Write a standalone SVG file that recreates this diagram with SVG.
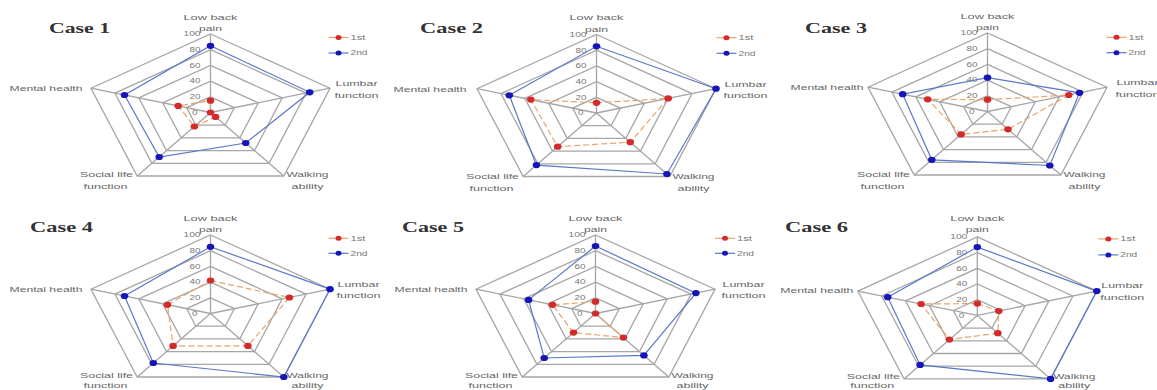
<svg xmlns="http://www.w3.org/2000/svg" xmlns:xlink="http://www.w3.org/1999/xlink" width="1157" height="390" viewBox="0 0 1157 390">
<style>
.grid polygon,.grid path{fill:none;stroke:#a6a6a6;stroke-width:1.3}
.tick{font-family:"Liberation Sans",Arial,sans-serif;font-size:6.5px;fill:#777;text-anchor:end}
.lab{font-family:"Liberation Sans",Arial,sans-serif;font-size:8px;fill:#666;text-anchor:middle}
.leg{font-family:"Liberation Sans",Arial,sans-serif;font-size:6.5px;fill:#777}
.title{font-family:"Liberation Serif","Times New Roman",serif;font-size:15px;font-weight:bold;fill:#333}
.s2{fill:none;stroke:#5a78c8;stroke-width:1.2;marker-start:url(#mb);marker-mid:url(#mb)}
.s1{fill:none;stroke:#e8a46a;stroke-width:1.2;stroke-dasharray:6 3;marker-start:url(#mr);marker-mid:url(#mr)}
.l2{stroke:#5a78c8;stroke-width:1.2}
.l1{stroke:#e8a46a;stroke-width:1.2}
</style>
<defs>
<marker id="mb" markerUnits="userSpaceOnUse" markerWidth="10" markerHeight="10" viewBox="-5 -5 10 10" refX="0" refY="0" orient="0" overflow="visible"><ellipse rx="3.8" ry="3.1" fill="#1616b8"/></marker>
<marker id="mr" markerUnits="userSpaceOnUse" markerWidth="10" markerHeight="10" viewBox="-5 -5 10 10" refX="0" refY="0" orient="0" overflow="visible"><ellipse rx="3.8" ry="3.1" fill="#d42a2a"/></marker>
<g id="grid" class="grid">
<polygon points="0,-78.5 119.5,-24.3 73.3,63.5 -73.3,63.5 -119.5,-24.3"/>
<polygon points="0,-62.8 95.6,-19.4 58.6,50.8 -58.6,50.8 -95.6,-19.4"/>
<polygon points="0,-47.1 71.7,-14.6 44,38.1 -44,38.1 -71.7,-14.6"/>
<polygon points="0,-31.4 47.8,-9.7 29.3,25.4 -29.3,25.4 -47.8,-9.7"/>
<polygon points="0,-15.7 23.9,-4.9 14.7,12.7 -14.7,12.7 -23.9,-4.9"/>
<path d="M0,0V-78.5M0,0L119.5,-24.3M0,0L73.3,63.5M0,0L-73.3,63.5M0,0L-119.5,-24.3"/>
</g>
</defs>
<rect width="1157" height="390" fill="#fff"/>

<g id="case1" transform="translate(210.5,112.5)">
<text class="title" x="-161.5" y="-79.5" textLength="61" lengthAdjust="spacingAndGlyphs">Case 1</text>
<use href="#grid" xlink:href="#grid"/>
<text class="tick" x="-10" y="-76.2" textLength="17" lengthAdjust="spacingAndGlyphs">100</text>
<text class="tick" x="-10" y="-60.5" textLength="11" lengthAdjust="spacingAndGlyphs">80</text>
<text class="tick" x="-10" y="-44.8" textLength="11" lengthAdjust="spacingAndGlyphs">60</text>
<text class="tick" x="-10" y="-29.1" textLength="11" lengthAdjust="spacingAndGlyphs">40</text>
<text class="tick" x="-10" y="-13.4" textLength="11" lengthAdjust="spacingAndGlyphs">20</text>
<text class="tick" x="-13" y="2.3" textLength="5.5" lengthAdjust="spacingAndGlyphs">0</text>
<text class="lab" x="0" y="-93" textLength="54" lengthAdjust="spacingAndGlyphs">Low back</text>
<text class="lab" x="0" y="-81.5" textLength="23" lengthAdjust="spacingAndGlyphs">pain</text>
<text class="lab" x="146" y="-26.5" textLength="42" lengthAdjust="spacingAndGlyphs">Lumbar</text>
<text class="lab" x="146" y="-15" textLength="44" lengthAdjust="spacingAndGlyphs">function</text>
<text class="lab" x="97" y="64.5" textLength="42" lengthAdjust="spacingAndGlyphs">Walking</text>
<text class="lab" x="97" y="76.5" textLength="32" lengthAdjust="spacingAndGlyphs">ability</text>
<text class="lab" x="-104" y="64.5" textLength="53" lengthAdjust="spacingAndGlyphs">Social life</text>
<text class="lab" x="-105" y="76.5" textLength="44" lengthAdjust="spacingAndGlyphs">function</text>
<text class="lab" x="-128" y="-21.5" style="text-anchor:end" textLength="73" lengthAdjust="spacingAndGlyphs">Mental health</text>
<g class="legend">
<line class="l1" x1="118" y1="-75" x2="138" y2="-75"/><ellipse cx="128" cy="-75" rx="3" ry="2.5" fill="#d42a2a"/>
<text class="leg" x="140" y="-72.8" textLength="15" lengthAdjust="spacingAndGlyphs">1st</text>
<line class="l2" x1="118" y1="-59.5" x2="138" y2="-59.5"/><ellipse cx="128" cy="-59.5" rx="3" ry="2.5" fill="#1616b8"/>
<text class="leg" x="140" y="-57.3" textLength="17" lengthAdjust="spacingAndGlyphs">2nd</text>
</g>
<g class="series">
<polygon class="s2" points="0,-66.7 99.2,-20.2 35.2,30.5 -51.3,44.5 -86,-17.5"/>
<polygon class="s1" points="0,-11.8 0,0 5.1,4.4 -16.1,14 -32.3,-6.6"/>
</g>
</g>

<g id="case2" transform="translate(596.5,113)">
<text class="title" x="-176.5" y="-80" textLength="63" lengthAdjust="spacingAndGlyphs">Case 2</text>
<use href="#grid" xlink:href="#grid"/>
<text class="tick" x="-10" y="-76.2" textLength="17" lengthAdjust="spacingAndGlyphs">100</text>
<text class="tick" x="-10" y="-60.5" textLength="11" lengthAdjust="spacingAndGlyphs">80</text>
<text class="tick" x="-10" y="-44.8" textLength="11" lengthAdjust="spacingAndGlyphs">60</text>
<text class="tick" x="-10" y="-29.1" textLength="11" lengthAdjust="spacingAndGlyphs">40</text>
<text class="tick" x="-10" y="-13.4" textLength="11" lengthAdjust="spacingAndGlyphs">20</text>
<text class="tick" x="-13" y="2.3" textLength="5.5" lengthAdjust="spacingAndGlyphs">0</text>
<text class="lab" x="0" y="-93" textLength="54" lengthAdjust="spacingAndGlyphs">Low back</text>
<text class="lab" x="0" y="-81.5" textLength="23" lengthAdjust="spacingAndGlyphs">pain</text>
<text class="lab" x="149" y="-26.5" textLength="42" lengthAdjust="spacingAndGlyphs">Lumbar</text>
<text class="lab" x="149" y="-15" textLength="44" lengthAdjust="spacingAndGlyphs">function</text>
<text class="lab" x="97" y="66" textLength="42" lengthAdjust="spacingAndGlyphs">Walking</text>
<text class="lab" x="97" y="78" textLength="32" lengthAdjust="spacingAndGlyphs">ability</text>
<text class="lab" x="-104" y="66" textLength="53" lengthAdjust="spacingAndGlyphs">Social life</text>
<text class="lab" x="-105" y="78" textLength="44" lengthAdjust="spacingAndGlyphs">function</text>
<text class="lab" x="-130" y="-21.5" style="text-anchor:end" textLength="73" lengthAdjust="spacingAndGlyphs">Mental health</text>
<g class="legend">
<line class="l1" x1="120" y1="-75.3" x2="140" y2="-75.3"/><ellipse cx="130" cy="-75.3" rx="3" ry="2.5" fill="#d42a2a"/>
<text class="leg" x="142" y="-73.1" textLength="15" lengthAdjust="spacingAndGlyphs">1st</text>
<line class="l2" x1="120" y1="-59.7" x2="140" y2="-59.7"/><ellipse cx="130" cy="-59.7" rx="3" ry="2.5" fill="#1616b8"/>
<text class="leg" x="142" y="-57.5" textLength="17" lengthAdjust="spacingAndGlyphs">2nd</text>
</g>
<g class="series">
<polygon class="s2" points="0,-66.7 119.5,-24.3 70.4,61 -60.1,52.1 -87.2,-17.7"/>
<polygon class="s1" points="0,-10.2 71.7,-14.6 33.7,29.2 -38.8,33.7 -65.7,-13.4"/>
</g>
</g>

<g id="case3" transform="translate(987.5,111.5)">
<text class="title" x="-182.5" y="-78.5" textLength="62" lengthAdjust="spacingAndGlyphs">Case 3</text>
<use href="#grid" xlink:href="#grid"/>
<text class="tick" x="-10" y="-76.2" textLength="17" lengthAdjust="spacingAndGlyphs">100</text>
<text class="tick" x="-10" y="-60.5" textLength="11" lengthAdjust="spacingAndGlyphs">80</text>
<text class="tick" x="-10" y="-44.8" textLength="11" lengthAdjust="spacingAndGlyphs">60</text>
<text class="tick" x="-10" y="-29.1" textLength="11" lengthAdjust="spacingAndGlyphs">40</text>
<text class="tick" x="-10" y="-13.4" textLength="11" lengthAdjust="spacingAndGlyphs">20</text>
<text class="tick" x="-13" y="2.3" textLength="5.5" lengthAdjust="spacingAndGlyphs">0</text>
<text class="lab" x="0" y="-93" textLength="54" lengthAdjust="spacingAndGlyphs">Low back</text>
<text class="lab" x="0" y="-81.5" textLength="23" lengthAdjust="spacingAndGlyphs">pain</text>
<text class="lab" x="150" y="-26.5" textLength="42" lengthAdjust="spacingAndGlyphs">Lumbar</text>
<text class="lab" x="150" y="-15" textLength="44" lengthAdjust="spacingAndGlyphs">function</text>
<text class="lab" x="97" y="65.5" textLength="42" lengthAdjust="spacingAndGlyphs">Walking</text>
<text class="lab" x="97" y="77.5" textLength="32" lengthAdjust="spacingAndGlyphs">ability</text>
<text class="lab" x="-104" y="65.5" textLength="53" lengthAdjust="spacingAndGlyphs">Social life</text>
<text class="lab" x="-105" y="77.5" textLength="44" lengthAdjust="spacingAndGlyphs">function</text>
<text class="lab" x="-124" y="-21.5" style="text-anchor:end" textLength="73" lengthAdjust="spacingAndGlyphs">Mental health</text>
<g class="legend">
<line class="l1" x1="119" y1="-74.2" x2="139" y2="-74.2"/><ellipse cx="129" cy="-74.2" rx="3" ry="2.5" fill="#d42a2a"/>
<text class="leg" x="141" y="-72" textLength="15" lengthAdjust="spacingAndGlyphs">1st</text>
<line class="l2" x1="119" y1="-58.8" x2="139" y2="-58.8"/><ellipse cx="129" cy="-58.8" rx="3" ry="2.5" fill="#1616b8"/>
<text class="leg" x="141" y="-56.6" textLength="17" lengthAdjust="spacingAndGlyphs">2nd</text>
</g>
<g class="series">
<polygon class="s2" points="0,-33.8 92,-18.7 62.3,54 -55.7,48.3 -84.8,-17.3"/>
<polygon class="s1" points="0,-11.8 81.3,-16.5 20.5,17.8 -26.4,22.9 -59.8,-12.2"/>
</g>
</g>

<g id="case4" transform="translate(210.5,313.5)">
<text class="title" x="-180.5" y="-81.5" textLength="63" lengthAdjust="spacingAndGlyphs">Case 4</text>
<use href="#grid" xlink:href="#grid"/>
<text class="tick" x="-10" y="-76.2" textLength="17" lengthAdjust="spacingAndGlyphs">100</text>
<text class="tick" x="-10" y="-60.5" textLength="11" lengthAdjust="spacingAndGlyphs">80</text>
<text class="tick" x="-10" y="-44.8" textLength="11" lengthAdjust="spacingAndGlyphs">60</text>
<text class="tick" x="-10" y="-29.1" textLength="11" lengthAdjust="spacingAndGlyphs">40</text>
<text class="tick" x="-10" y="-13.4" textLength="11" lengthAdjust="spacingAndGlyphs">20</text>
<text class="tick" x="-13" y="2.3" textLength="5.5" lengthAdjust="spacingAndGlyphs">0</text>
<text class="lab" x="0" y="-93" textLength="54" lengthAdjust="spacingAndGlyphs">Low back</text>
<text class="lab" x="0" y="-81.5" textLength="23" lengthAdjust="spacingAndGlyphs">pain</text>
<text class="lab" x="148" y="-27" textLength="42" lengthAdjust="spacingAndGlyphs">Lumbar</text>
<text class="lab" x="148" y="-15.5" textLength="44" lengthAdjust="spacingAndGlyphs">function</text>
<text class="lab" x="97" y="64.5" textLength="42" lengthAdjust="spacingAndGlyphs">Walking</text>
<text class="lab" x="97" y="74.5" textLength="32" lengthAdjust="spacingAndGlyphs">ability</text>
<text class="lab" x="-104" y="64.5" textLength="53" lengthAdjust="spacingAndGlyphs">Social life</text>
<text class="lab" x="-105" y="74.5" textLength="44" lengthAdjust="spacingAndGlyphs">function</text>
<text class="lab" x="-128" y="-21.5" style="text-anchor:end" textLength="73" lengthAdjust="spacingAndGlyphs">Mental health</text>
<g class="legend">
<line class="l1" x1="118" y1="-75.2" x2="138" y2="-75.2"/><ellipse cx="128" cy="-75.2" rx="3" ry="2.5" fill="#d42a2a"/>
<text class="leg" x="140" y="-73" textLength="15" lengthAdjust="spacingAndGlyphs">1st</text>
<line class="l2" x1="118" y1="-60.2" x2="138" y2="-60.2"/><ellipse cx="128" cy="-60.2" rx="3" ry="2.5" fill="#1616b8"/>
<text class="leg" x="140" y="-58" textLength="17" lengthAdjust="spacingAndGlyphs">2nd</text>
</g>
<g class="series">
<polygon class="s2" points="0,-66.7 119.5,-24.3 73.3,63.5 -57.2,49.5 -86,-17.5"/>
<polygon class="s1" points="0,-33 78.9,-16 37.4,32.4 -37.4,32.4 -43,-8.7"/>
</g>
</g>

<g id="case5" transform="translate(595.5,313.5)">
<text class="title" x="-193.5" y="-81.5" textLength="62" lengthAdjust="spacingAndGlyphs">Case 5</text>
<use href="#grid" xlink:href="#grid"/>
<text class="tick" x="-10" y="-76.2" textLength="17" lengthAdjust="spacingAndGlyphs">100</text>
<text class="tick" x="-10" y="-60.5" textLength="11" lengthAdjust="spacingAndGlyphs">80</text>
<text class="tick" x="-10" y="-44.8" textLength="11" lengthAdjust="spacingAndGlyphs">60</text>
<text class="tick" x="-10" y="-29.1" textLength="11" lengthAdjust="spacingAndGlyphs">40</text>
<text class="tick" x="-10" y="-13.4" textLength="11" lengthAdjust="spacingAndGlyphs">20</text>
<text class="tick" x="-13" y="2.3" textLength="5.5" lengthAdjust="spacingAndGlyphs">0</text>
<text class="lab" x="0" y="-93" textLength="54" lengthAdjust="spacingAndGlyphs">Low back</text>
<text class="lab" x="0" y="-81.5" textLength="23" lengthAdjust="spacingAndGlyphs">pain</text>
<text class="lab" x="148" y="-27" textLength="42" lengthAdjust="spacingAndGlyphs">Lumbar</text>
<text class="lab" x="148" y="-15.5" textLength="44" lengthAdjust="spacingAndGlyphs">function</text>
<text class="lab" x="97" y="64.5" textLength="42" lengthAdjust="spacingAndGlyphs">Walking</text>
<text class="lab" x="97" y="74.5" textLength="32" lengthAdjust="spacingAndGlyphs">ability</text>
<text class="lab" x="-104" y="64.5" textLength="53" lengthAdjust="spacingAndGlyphs">Social life</text>
<text class="lab" x="-105" y="74.5" textLength="44" lengthAdjust="spacingAndGlyphs">function</text>
<text class="lab" x="-128" y="-21.5" style="text-anchor:end" textLength="73" lengthAdjust="spacingAndGlyphs">Mental health</text>
<g class="legend">
<line class="l1" x1="119.5" y1="-75.2" x2="139.5" y2="-75.2"/><ellipse cx="129.5" cy="-75.2" rx="3" ry="2.5" fill="#d42a2a"/>
<text class="leg" x="141.5" y="-73" textLength="15" lengthAdjust="spacingAndGlyphs">1st</text>
<line class="l2" x1="119.5" y1="-60.2" x2="139.5" y2="-60.2"/><ellipse cx="129.5" cy="-60.2" rx="3" ry="2.5" fill="#1616b8"/>
<text class="leg" x="141.5" y="-58" textLength="17" lengthAdjust="spacingAndGlyphs">2nd</text>
</g>
<g class="series">
<polygon class="s2" points="0,-67.5 100.4,-20.4 48.4,41.9 -51.3,44.5 -66.9,-13.6"/>
<polygon class="s1" points="0,-11.8 0,0 27.9,24.1 -22,19.1 -43,-8.7"/>
</g>
</g>

<g id="case6" transform="translate(977.3,315.4)">
<text class="title" x="-192.3" y="-83.4" textLength="63" lengthAdjust="spacingAndGlyphs">Case 6</text>
<use href="#grid" xlink:href="#grid"/>
<text class="tick" x="-10" y="-76.2" textLength="17" lengthAdjust="spacingAndGlyphs">100</text>
<text class="tick" x="-10" y="-60.5" textLength="11" lengthAdjust="spacingAndGlyphs">80</text>
<text class="tick" x="-10" y="-44.8" textLength="11" lengthAdjust="spacingAndGlyphs">60</text>
<text class="tick" x="-10" y="-29.1" textLength="11" lengthAdjust="spacingAndGlyphs">40</text>
<text class="tick" x="-10" y="-13.4" textLength="11" lengthAdjust="spacingAndGlyphs">20</text>
<text class="tick" x="-13" y="2.3" textLength="5.5" lengthAdjust="spacingAndGlyphs">0</text>
<text class="lab" x="0" y="-94" textLength="54" lengthAdjust="spacingAndGlyphs">Low back</text>
<text class="lab" x="0" y="-83" textLength="23" lengthAdjust="spacingAndGlyphs">pain</text>
<text class="lab" x="145" y="-27" textLength="42" lengthAdjust="spacingAndGlyphs">Lumbar</text>
<text class="lab" x="145" y="-15.5" textLength="44" lengthAdjust="spacingAndGlyphs">function</text>
<text class="lab" x="97" y="63.5" textLength="42" lengthAdjust="spacingAndGlyphs">Walking</text>
<text class="lab" x="97" y="73" textLength="32" lengthAdjust="spacingAndGlyphs">ability</text>
<text class="lab" x="-104" y="63.5" textLength="53" lengthAdjust="spacingAndGlyphs">Social life</text>
<text class="lab" x="-105" y="73" textLength="44" lengthAdjust="spacingAndGlyphs">function</text>
<text class="lab" x="-124" y="-22" style="text-anchor:end" textLength="73" lengthAdjust="spacingAndGlyphs">Mental health</text>
<g class="legend">
<line class="l1" x1="121" y1="-76.5" x2="141" y2="-76.5"/><ellipse cx="131" cy="-76.5" rx="3" ry="2.5" fill="#d42a2a"/>
<text class="leg" x="143" y="-74.3" textLength="15" lengthAdjust="spacingAndGlyphs">1st</text>
<line class="l2" x1="121" y1="-60.5" x2="141" y2="-60.5"/><ellipse cx="131" cy="-60.5" rx="3" ry="2.5" fill="#1616b8"/>
<text class="leg" x="143" y="-58.3" textLength="17" lengthAdjust="spacingAndGlyphs">2nd</text>
</g>
<g class="series">
<polygon class="s2" points="0,-68.3 119.5,-24.3 73.3,63.5 -57.2,49.5 -89.6,-18.2"/>
<polygon class="s1" points="0,-11.8 21.5,-4.4 20.5,17.8 -27.9,24.1 -56.2,-11.4"/>
</g>
</g>
</svg>
